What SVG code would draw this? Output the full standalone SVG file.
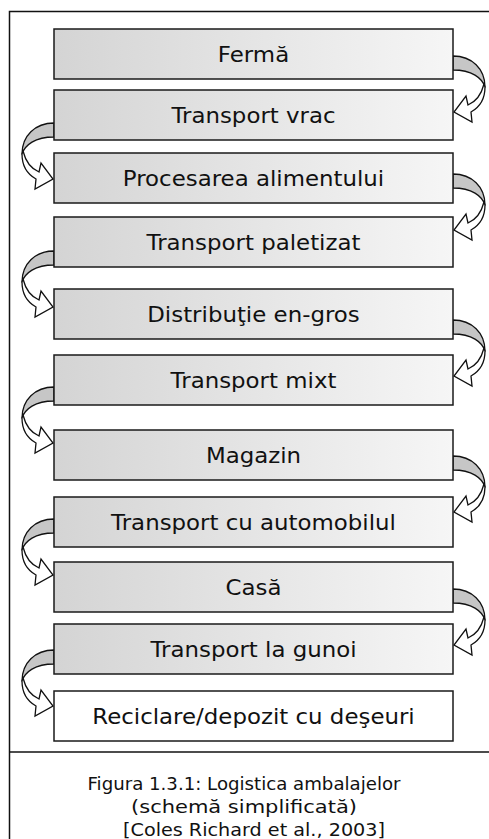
<svg xmlns="http://www.w3.org/2000/svg" width="489" height="839" viewBox="0 0 489 839">
  <style>
    .frame { fill: none; stroke: #111; stroke-width: 1.5; }
    .box { fill: url(#boxFill); stroke: #1a1a1a; stroke-width: 1.5; }
    .box-last { fill: #fff; stroke: #1a1a1a; stroke-width: 1.5; }
    .label { font-family: "DejaVu Sans", Verdana, sans-serif; font-size: 21px; fill: #111; text-anchor: middle; }
    .caption { font-family: "DejaVu Sans", Verdana, sans-serif; font-size: 18.5px; fill: #111; text-anchor: middle; }
    .arr-shade { fill: #c6c6c6; stroke: #111; stroke-width: 1.3; stroke-linejoin: round; }
    .arr-body { fill: #fff; stroke: #111; stroke-width: 1.3; stroke-linejoin: miter; }
  </style>
  <defs>
    <linearGradient id="boxFill" x1="0" y1="0" x2="1" y2="0">
      <stop offset="0" stop-color="#d4d4d4"/>
      <stop offset="1" stop-color="#f6f6f6"/>
    </linearGradient>
    <!-- curved block arrow, tail at (0,0)-(0,14), bulging toward +x, head pointing back at (1,56) -->
    <g id="curvedArrow">
      <path class="arr-shade" d="M0,0 C19,0 32,13 32,31 C29,22 19,14 0,14 Z"/>
      <path class="arr-body" d="M32,31 C32,43 27,51 18,56 L19,66 L1,56 L13,40 L15,49 C22,46 28,40 31,28 Z"/>
    </g>
  </defs>

  <rect width="489" height="839" fill="#fff"/>

  <!-- outer frame and caption separator -->
  <g id="frame">
    <path class="frame" d="M9.5,839 V11.5 H500"/>
    <path class="frame" d="M9.5,752 H500"/>
  </g>

  <!-- connectors -->
  <g id="connectors">
    <use href="#curvedArrow" transform="translate(453,56)"/>
    <use href="#curvedArrow" transform="translate(54,123) scale(-1,1)"/>
    <use href="#curvedArrow" transform="translate(453,174)"/>
    <use href="#curvedArrow" transform="translate(54,251) scale(-1,1)"/>
    <use href="#curvedArrow" transform="translate(453,320)"/>
    <use href="#curvedArrow" transform="translate(54,387) scale(-1,1)"/>
    <use href="#curvedArrow" transform="translate(453,456)"/>
    <use href="#curvedArrow" transform="translate(54,519) scale(-1,1)"/>
    <use href="#curvedArrow" transform="translate(453,589)"/>
    <use href="#curvedArrow" transform="translate(54,650) scale(-1,1)"/>
  </g>

  <g id="n1"><rect class="box" x="54" y="29" width="399" height="50"/>
    <text class="label" transform="translate(253.5,62) scale(1.09,1)">Fermă</text></g>
  <g id="n2"><rect class="box" x="54" y="90" width="399" height="50"/>
    <text class="label" transform="translate(253.5,123) scale(1.09,1)">Transport vrac</text></g>
  <g id="n3"><rect class="box" x="54" y="153" width="399" height="50"/>
    <text class="label" transform="translate(253.5,186) scale(1.09,1)">Procesarea alimentului</text></g>
  <g id="n4"><rect class="box" x="54" y="217" width="399" height="50"/>
    <text class="label" transform="translate(253.5,250) scale(1.09,1)">Transport paletizat</text></g>
  <g id="n5"><rect class="box" x="54" y="289" width="399" height="50"/>
    <text class="label" transform="translate(253.5,322) scale(1.09,1)">Distribuţie en-gros</text></g>
  <g id="n6"><rect class="box" x="54" y="355" width="399" height="50"/>
    <text class="label" transform="translate(253.5,388) scale(1.09,1)">Transport mixt</text></g>
  <g id="n7"><rect class="box" x="54" y="430" width="399" height="50"/>
    <text class="label" transform="translate(253.5,463) scale(1.09,1)">Magazin</text></g>
  <g id="n8"><rect class="box" x="54" y="497" width="399" height="50"/>
    <text class="label" transform="translate(253.5,530) scale(1.09,1)">Transport cu automobilul</text></g>
  <g id="n9"><rect class="box" x="54" y="562" width="399" height="50"/>
    <text class="label" transform="translate(253.5,595) scale(1.09,1)">Casă</text></g>
  <g id="n10"><rect class="box" x="54" y="624" width="399" height="50"/>
    <text class="label" transform="translate(253.5,657) scale(1.09,1)">Transport la gunoi</text></g>
  <g id="n11"><rect class="box-last" x="54" y="691" width="399" height="50"/>
    <text class="label" transform="translate(253.5,724) scale(1.09,1)">Reciclare/depozit cu deşeuri</text></g>

  <g id="caption">
    <text class="caption" x="244" y="790" textLength="313" lengthAdjust="spacingAndGlyphs">Figura 1.3.1: Logistica ambalajelor</text>
    <text class="caption" x="244" y="813" textLength="226" lengthAdjust="spacingAndGlyphs">(schemă simplificată)</text>
    <text class="caption" x="254" y="836" textLength="262" lengthAdjust="spacingAndGlyphs">[Coles Richard et al., 2003]</text>
  </g>
</svg>
